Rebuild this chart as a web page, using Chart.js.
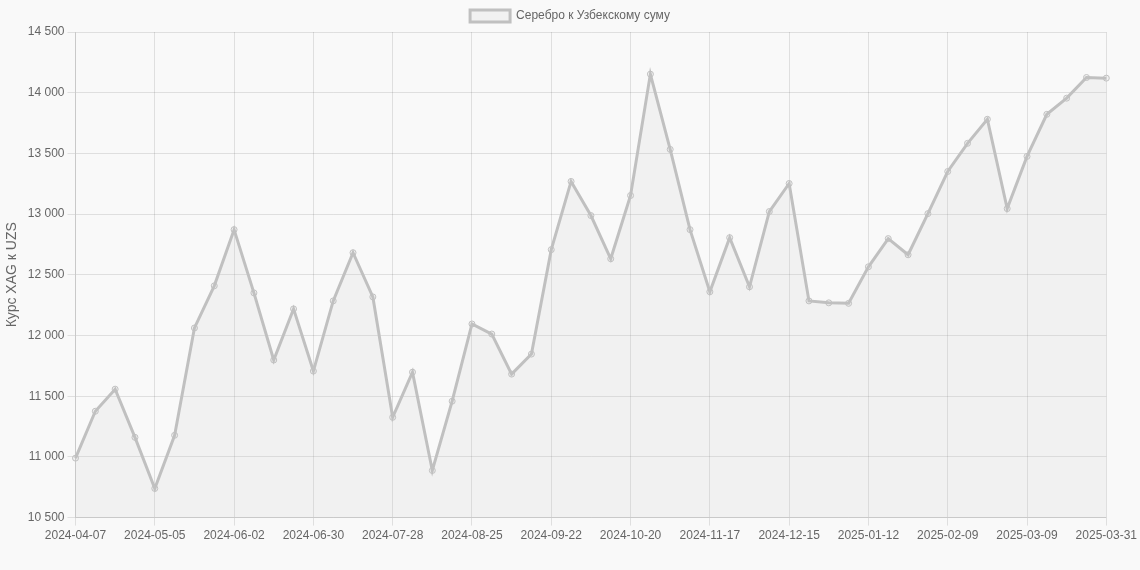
<!DOCTYPE html>
<html>
<head>
<meta charset="utf-8">
<script src="https://cdn.jsdelivr.net/npm/chart.js@4"></script>
<style>
  html, body { margin: 0; padding: 0; background: #f9f9f9; }
  #wrap { width: 1140px; height: 570px; }
</style>
</head>
<body>
<div id="wrap"><canvas id="silverChart"></canvas></div>
<script>
const labels = [
    '2024-04-07','2024-04-14','2024-04-21','2024-04-28','2024-05-05','2024-05-12','2024-05-19','2024-05-26',
    '2024-06-02','2024-06-09','2024-06-16','2024-06-23','2024-06-30','2024-07-07','2024-07-14','2024-07-21',
    '2024-07-28','2024-08-04','2024-08-11','2024-08-18','2024-08-25','2024-09-01','2024-09-08','2024-09-15',
    '2024-09-22','2024-09-29','2024-10-06','2024-10-13','2024-10-20','2024-10-27','2024-11-03','2024-11-10',
    '2024-11-17','2024-11-24','2024-12-01','2024-12-08','2024-12-15','2024-12-22','2024-12-29','2025-01-05',
    '2025-01-12','2025-01-19','2025-01-26','2025-02-02','2025-02-09','2025-02-16','2025-02-23','2025-03-02',
    '2025-03-09','2025-03-16','2025-03-23','2025-03-30','2025-03-31'
];

const rates = [
    10990, 11376, 11558, 11161, 10740, 11178, 12062, 12409,
    12872, 12351, 11798, 12219, 11707, 12285, 12682, 12318,
    11326, 11698, 10888, 11459, 12095, 12012, 11682, 11847,
    12707, 13269, 12988, 12632, 13153, 14153, 13533, 12872,
    12360, 12806, 12401, 13021, 13252, 12285, 12269, 12265,
    12566, 12798, 12665, 13004, 13351, 13583, 13781, 13045,
    13475, 13822, 13955, 14125, 14120
];

const seriesLabel = 'Серебро к Узбекскому суму';
const axisTitle = 'Курс XAG к UZS';

Chart.defaults.font.family = '"Liberation Sans", Arial, sans-serif';
Chart.defaults.font.size = 12;
Chart.defaults.color = '#666';

function formatRu(v) {
    return String(v).replace(/\B(?=(\d{3})+(?!\d))/g, ' ');
}

const ctx = document.getElementById('silverChart').getContext('2d');
new Chart(ctx, {
    type: 'line',
    data: {
        labels: labels,
        datasets: [{
            label: seriesLabel,
            data: rates,
            borderColor: 'rgba(192, 192, 192, 1)',
            backgroundColor: 'rgba(192, 192, 192, 0.15)',
            borderWidth: 3,
            pointRadius: 3,
            pointBorderWidth: 1,
            pointBackgroundColor: 'rgba(192, 192, 192, 0.15)',
            pointBorderColor: 'rgba(192, 192, 192, 1)',
            fill: true,
            tension: 0
        }]
    },
    options: {
        responsive: true,
        maintainAspectRatio: false,
        animation: false,
        layout: { padding: { bottom: 24 } },
        plugins: {
            legend: {
                labels: { boxWidth: 40, boxHeight: 12 }
            }
        },
        scales: {
            x: {
                ticks: {
                    autoSkip: false,
                    maxRotation: 0,
                    callback: function (value, index) {
                        return index % 4 === 0 ? this.getLabelForValue(value) : '';
                    }
                },
                grid: {
                    color: function (c) {
                        return c.index % 4 === 0 ? 'rgba(0,0,0,0.1)' : 'rgba(0,0,0,0)';
                    }
                }
            },
            y: {
                min: 10500,
                max: 14500,
                ticks: {
                    stepSize: 500,
                    callback: v => formatRu(v)
                },
                title: { display: true, text: axisTitle, font: { size: 14 } }
            }
        }
    }
});
</script>
</body>
</html>
